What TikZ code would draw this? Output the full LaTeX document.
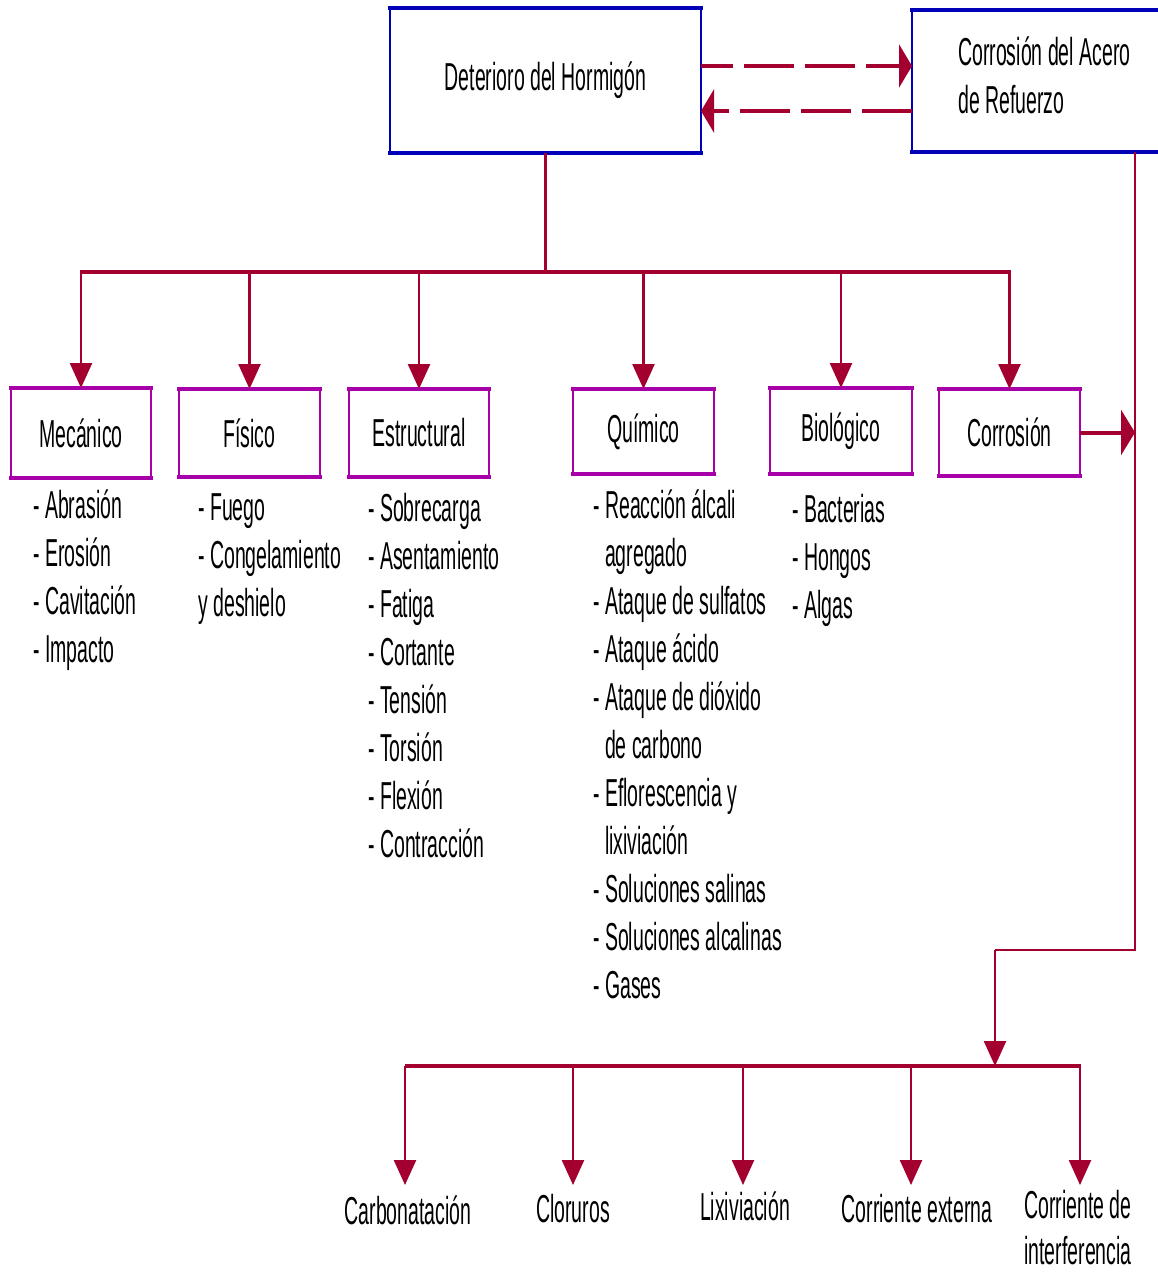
\documentclass[tikz,border=0pt]{standalone}
\usepackage{fontspec}
\setmainfont[FakeStretch=0.5]{Liberation Sans}
\usetikzlibrary{arrows.meta}
\definecolor{darkred}{RGB}{163,0,48}
\definecolor{bblue}{RGB}{0,0,185}
\definecolor{mag}{RGB}{168,0,168}
\begin{document}
\begin{tikzpicture}[x=1pt,y=-1pt,
 every node/.style={font=\fontsize{39}{48}\selectfont, inner sep=0pt},
 topbox/.style={draw=bblue, line width=2.2pt, outer sep=0pt},
 catbox/.style={draw=mag, line width=2.5pt, outer sep=0pt},
 item/.style={anchor=base west},
 vdrop/.style={draw=darkred, line width=2.5pt, -{Triangle[length=25pt,width=22pt]}},
 bus/.style={draw=darkred, line width=4.5pt},
 link/.style={draw=darkred, line width=2.5pt},
 dasharr/.style={draw=darkred, line width=4pt, dash pattern=on 50pt off 11pt, -{Triangle[length=13pt,width=43pt]}},
 harr/.style={draw=darkred, line width=4pt, -{Triangle[length=14pt,width=45pt]}},
]
\useasboundingbox[fill=white] (0,0) rectangle (1158,1272);

% top boxes
\node[topbox, minimum width=311pt, minimum height=145pt] (det) at (545.5,80.5) {Deterioro del Hormigón};
\node[topbox, anchor=west, minimum width=270pt, minimum height=142pt] (ca) at (912,81) {};
\node[anchor=north west, align=left] (catext) at (958,37) {Corrosión del Acero\\de Refuerzo};
\foreach \n in {det,ca} {
  \draw[bblue, line width=3.5pt, line cap=rect] (\n.north west) -- (\n.north east);
  \draw[bblue, line width=4.5pt, line cap=rect] (\n.south west) -- (\n.south east);
}

% dashed arrows between top boxes
\path ([yshift=14.5pt]det.east) coordinate (d1);
\path ([yshift=-30.5pt]det.east) coordinate (d2);
\draw[dasharr, dash phase=18pt] (d1) -- (d1 -| ca.west);
\draw[dasharr, dash phase=0pt] (d2 -| ca.west) -- (d2);

% category boxes
\node[catbox, minimum width=140pt, minimum height=90pt] (mec) at (81,433) {Mecánico};
\node[catbox, minimum width=141pt, minimum height=88pt] (fis) at (249.5,433) {Físico};
\node[catbox, minimum width=140pt, minimum height=88pt] (est) at (419,433) {Estructural};
\node[catbox, minimum width=141pt, minimum height=85pt] (qui) at (643.5,431.5) {Químico};
\node[catbox, minimum width=142pt, minimum height=86pt] (bio) at (841,431) {Biológico};
\node[catbox, minimum width=141pt, minimum height=87pt] (cor) at (1009.5,432.5) {Corrosión};
\foreach \n in {mec,fis,est,qui,bio,cor} {
  \draw[mag, line width=3.3pt, line cap=rect] (\n.north west) -- (\n.north east);
  \draw[mag, line width=4.5pt, line cap=rect] (\n.south west) -- (\n.south east);
}

% main bus
\coordinate (bl) at (80,272);
\coordinate (br) at (1011,272);
\draw[link] (det.south) -- (det.south |- bl);
\draw[bus] (bl) -- (br);
\foreach \n in {mec,fis,est,qui,bio,cor}
  \draw[vdrop] (\n.north |- bl) -- (\n.north);

% lists
\foreach \t [count=\i] in {- Abrasión, - Erosión, - Cavitación, - Impacto}
  \node[item] (mi\i) at (33, 470+48*\i) {\t};
\foreach \t [count=\i] in {- Fuego, - Congelamiento, y deshielo}
  \node[item] (fi\i) at (198, 472+48*\i) {\t};
\foreach \t [count=\i] in {- Sobrecarga, - Asentamiento, - Fatiga, - Cortante, - Tensión, - Torsión, - Flexión, - Contracción}
  \node[item] (si\i) at (368, 473+48*\i) {\t};
\foreach \t [count=\i] in {- Reacción álcali, {\hphantom{- }agregado}, - Ataque de sulfatos, - Ataque ácido, - Ataque de dióxido, {\hphantom{- }de carbono}, - Eflorescencia y, {\hphantom{- }lixiviación}, - Soluciones salinas, - Soluciones alcalinas, - Gases}
  \node[item] (qi\i) at (593, 470+48*\i) {\t};
\foreach \t [count=\i] in {- Bacterias, - Hongos, - Algas}
  \node[item] (bi\i) at (792, 474+48*\i) {\t};

% right side connector
\coordinate (vb) at (1135,950);
\coordinate (vc) at (995,950);
\coordinate (bj) at (995,1066);
\draw[link] (ca.south -| vb) -- (vb) -- (vc);
\draw[vdrop] (vc) -- (bj);
\draw[harr] (cor.east) -- (cor.east -| vb);

% bottom bus and labels
\coordinate (bb1) at (405,1066);
\coordinate (bb2) at (1081,1066);
\draw[bus] (bb1) -- (bb2);
\node[anchor=north] (l1) at (408,1196) {Carbonatación};
\node[anchor=north] (l2) at (573,1194) {Cloruros};
\node[anchor=north] (l3) at (745,1192) {Lixiviación};
\node[anchor=north] (l4) at (917,1194) {Corriente externa};
\node[anchor=north, align=center] (l5) at (1078,1190) {Corriente de\\[-2pt]interferencia};
\foreach \l/\dx in {l1/-3,l2/0,l3/-2,l4/-6,l5/2}
  \draw[vdrop] ([xshift=\dx pt]\l.north |- bb1) -- ([xshift=\dx pt]\l.north |- 0,1185);
\end{tikzpicture}
\end{document}
